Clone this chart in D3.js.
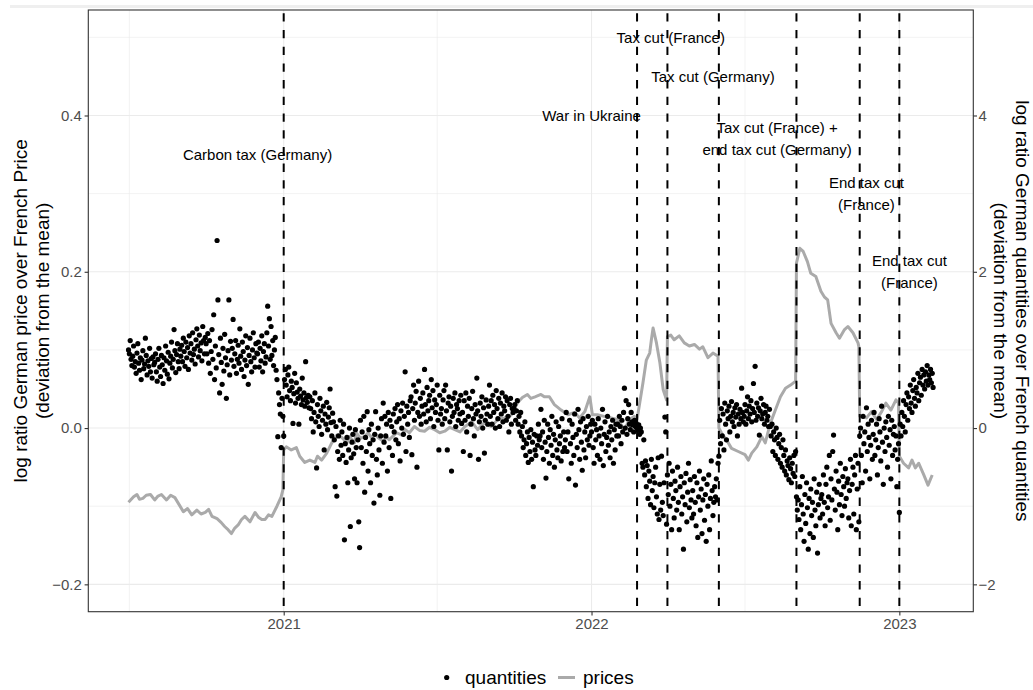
<!DOCTYPE html>
<html>
<head>
<meta charset="utf-8">
<script src="https://cdn.jsdelivr.net/npm/d3@7"></script>
<style>
  body { margin: 0; background: #fff; }
  text { font-family: "Liberation Sans", Arial, Helvetica, sans-serif; }
</style>
</head>
<body>
<svg id="chart" width="1033" height="690"></svg>
<script>
// ---- data ----
// price ratio, left axis units
const prices = [
  ["2020-07-01",-0.095],["2020-07-07",-0.088],["2020-07-11",-0.085],["2020-07-14",-0.091],["2020-07-18",-0.090],
  ["2020-07-22",-0.086],["2020-07-27",-0.085],["2020-08-01",-0.092],["2020-08-05",-0.087],["2020-08-09",-0.085],
  ["2020-08-15",-0.092],["2020-08-20",-0.086],["2020-08-25",-0.089],["2020-09-04",-0.107],["2020-09-09",-0.103],
  ["2020-09-14",-0.111],["2020-09-20",-0.105],["2020-09-25",-0.110],["2020-09-30",-0.108],["2020-10-04",-0.104],
  ["2020-10-08",-0.113],["2020-10-14",-0.116],["2020-10-19",-0.121],["2020-10-23",-0.126],["2020-10-27",-0.130],
  ["2020-10-31",-0.135],["2020-11-04",-0.128],["2020-11-08",-0.124],["2020-11-12",-0.117],["2020-11-16",-0.113],
  ["2020-11-22",-0.120],["2020-11-28",-0.108],["2020-12-02",-0.114],["2020-12-06",-0.117],["2020-12-10",-0.117],
  ["2020-12-14",-0.111],["2020-12-18",-0.113],["2020-12-24",-0.100],["2020-12-29",-0.088],["2020-12-31",-0.079],
  ["2021-01-01",-0.028],["2021-01-04",-0.024],["2021-01-10",-0.028],["2021-01-16",-0.025],
  ["2021-01-20",-0.036],["2021-01-26",-0.044],["2021-02-01",-0.041],["2021-02-07",-0.044],
  ["2021-02-10",-0.036],["2021-02-15",-0.041],["2021-02-21",-0.032],["2021-02-27",-0.019],
  ["2021-03-05",-0.009],["2021-03-11",-0.012],["2021-03-17",-0.019],["2021-03-20",-0.011],
  ["2021-03-26",-0.019],["2021-03-28",-0.006],["2021-04-02",-0.013],["2021-04-07",-0.011],["2021-04-11",-0.006],
  ["2021-04-15",-0.012],["2021-04-19",-0.007],["2021-04-23",-0.012],["2021-04-29",-0.017],["2021-05-03",-0.011],
  ["2021-05-06",-0.015],["2021-05-10",-0.011],["2021-05-15",-0.006],["2021-05-21",-0.009],["2021-05-25",-0.002],
  ["2021-05-30",-0.006],["2021-06-05",0.002],["2021-06-11",-0.003],["2021-06-17",-0.004],["2021-06-23",0.001],
  ["2021-06-29",-0.002],["2021-07-05",-0.006],["2021-07-11",-0.004],["2021-07-17",0.001],["2021-07-23",-0.002],
  ["2021-07-29",-0.005],["2021-08-04",0.002],["2021-08-12",0.008],["2021-08-19",-0.002],["2021-08-27",0.007],
  ["2021-09-04",0.002],["2021-09-12",0.011],["2021-09-20",0.013],["2021-09-28",0.017],["2021-10-05",0.032],
  ["2021-10-11",0.039],["2021-10-17",0.043],["2021-10-21",0.038],["2021-10-26",0.040],["2021-11-02",0.043],
  ["2021-11-06",0.040],["2021-11-12",0.040],["2021-11-18",0.030],["2021-11-26",0.023],
  ["2021-12-04",0.017],["2021-12-12",0.020],["2021-12-18",0.013],["2021-12-24",0.021],
  ["2021-12-30",0.040],["2022-01-02",0.017],["2022-01-08",0.017],["2022-01-16",0.015],
  ["2022-01-24",0.013],["2022-02-01",0.011],["2022-02-09",-0.002],["2022-02-15",0.011],
  ["2022-02-21",0.015],["2022-02-24",0.011],["2022-03-03",0.058],["2022-03-07",0.087],
  ["2022-03-11",0.096],["2022-03-13",0.113],["2022-03-15",0.128],["2022-03-19",0.109],
  ["2022-03-23",0.084],["2022-03-27",0.049],["2022-03-31",0.036],["2022-04-01",0.117],
  ["2022-04-05",0.119],["2022-04-09",0.113],["2022-04-15",0.118],["2022-04-21",0.109],
  ["2022-04-27",0.105],["2022-05-03",0.107],["2022-05-09",0.101],["2022-05-13",0.104],
  ["2022-05-19",0.090],["2022-05-25",0.096],["2022-05-31",0.092],["2022-06-01",0.000],
  ["2022-06-04",-0.006],["2022-06-10",-0.015],["2022-06-16",-0.026],["2022-06-24",-0.030],
  ["2022-07-02",-0.034],["2022-07-06",-0.041],["2022-07-10",-0.032],["2022-07-16",-0.024],
  ["2022-07-22",-0.011],["2022-07-26",-0.019],["2022-08-01",0.006],["2022-08-07",0.023],
  ["2022-08-13",0.040],["2022-08-19",0.051],["2022-08-25",0.055],["2022-08-31",0.060],
  ["2022-09-01",0.211],["2022-09-05",0.230],["2022-09-09",0.226],["2022-09-14",0.213],
  ["2022-09-18",0.198],["2022-09-24",0.194],["2022-09-30",0.175],["2022-10-04",0.168],
  ["2022-10-08",0.164],["2022-10-12",0.134],["2022-10-18",0.122],["2022-10-22",0.115],
  ["2022-10-28",0.126],["2022-11-01",0.130],["2022-11-07",0.122],["2022-11-13",0.109],
  ["2022-11-14",0.104],["2022-11-15",0.015],["2022-11-23",0.013],["2022-11-29",0.021],
  ["2022-12-05",0.011],["2022-12-11",0.021],["2022-12-16",0.032],["2022-12-22",0.023],
  ["2022-12-28",0.036],["2022-12-31",0.032],["2023-01-01",-0.036],["2023-01-06",-0.045],
  ["2023-01-12",-0.051],["2023-01-16",-0.041],["2023-01-20",-0.051],["2023-01-24",-0.045],
  ["2023-01-30",-0.060],["2023-02-04",-0.073],["2023-02-09",-0.060]
];

// quantity ratio, right axis units, one value per day, one array per month
const quantities2020 = [
  [1.00,0.95,1.12,0.88,0.80,0.92,1.05,0.78,0.85,0.70,0.96,1.08,0.83,0.74,0.90,0.62,0.87,0.99,0.76,0.82,1.15,0.93,0.68,0.86,0.79,1.02,0.72,0.89,0.64,0.91,0.81],
  [0.84,0.95,0.72,0.60,0.88,1.02,0.78,0.66,0.93,0.81,0.57,0.90,0.74,1.05,0.86,0.69,0.97,0.63,0.83,0.92,1.10,0.77,0.88,1.26,0.99,0.71,0.94,1.08,0.85,0.76,1.01],
  [0.92,1.06,0.85,1.15,0.98,0.79,1.10,0.90,1.03,0.75,1.18,0.96,1.08,0.87,1.22,0.94,1.01,0.82,1.13,1.27,1.05,0.91,1.19,0.99,1.09,0.86,1.30,1.12,0.95,1.16],
  [1.08,0.95,1.21,0.83,1.12,0.70,0.98,1.26,0.88,1.45,0.62,1.05,0.77,2.40,1.64,0.94,0.45,1.15,0.84,0.56,1.02,0.73,1.20,0.90,0.38,0.81,0.99,1.64,0.68,1.11,0.87],
  [1.02,1.39,0.79,0.95,1.12,0.70,0.88,1.06,0.83,1.27,0.92,0.75,1.10,0.98,0.66,0.87,1.18,0.80,1.03,0.56,0.93,1.15,0.85,0.72,1.00,1.22,0.90,0.78,1.08,0.96],
  [0.95,1.10,0.78,1.02,0.86,1.18,0.72,0.98,1.08,0.83,0.91,1.22,1.56,1.05,1.40,0.88,1.30,0.93,1.12,0.80,1.00,1.16,0.74,0.62,-0.11,0.45,0.30,0.18,-0.25,0.38,0.15]
];
const quantities2021 = [
  [-0.10,0.62,0.75,0.55,0.40,0.68,0.78,0.48,0.35,0.60,0.52,0.06,0.44,0.70,0.32,0.58,0.46,0.38,0.05,0.50,0.41,0.30,0.64,0.36,0.45,0.28,0.85,0.39,0.33,0.42,0.26],
  [0.40,0.25,0.12,0.35,-0.05,0.20,0.45,0.08,-0.51,0.30,0.15,0.02,0.38,0.22,-0.08,0.10,0.28,-0.28,0.18,0.05,0.33,-0.02,0.14,0.26,0.50,0.07,-0.10,0.19],
  [0.08,-0.15,-0.75,0.02,-0.87,-0.30,-0.10,-0.40,0.10,-0.22,-0.05,-0.35,0.05,-1.43,-0.20,-0.44,-0.12,-0.70,-0.28,0.00,-1.26,-0.38,-0.18,-0.08,-0.33,-0.65,-0.02,-0.25,-0.70,-0.15,-1.20],
  [-1.53,0.10,-0.25,-0.05,-0.45,0.15,-0.82,-0.12,-0.30,0.21,-0.55,-0.02,-0.20,-0.70,0.05,-0.35,-0.15,-0.96,-0.08,0.21,-0.40,-0.60,0.00,-0.28,-0.86,-0.10,0.12,-0.45,0.32,-0.18],
  [0.15,-0.10,0.05,-0.55,0.20,-0.25,0.10,-0.90,0.02,-0.35,0.18,-0.05,0.25,-0.15,0.08,0.30,-0.20,0.12,-0.42,0.22,0.00,0.32,-0.08,0.15,0.72,-0.30,0.28,0.05,0.20,-0.12,0.35],
  [0.40,-0.34,0.25,0.55,0.10,0.32,0.47,-0.50,0.20,0.60,0.15,0.38,0.05,0.28,0.45,0.18,0.75,0.30,0.08,0.52,0.22,0.35,0.42,0.12,0.62,0.26,0.48,0.02,0.36,0.20],
  [0.30,0.55,0.10,-0.28,0.42,0.18,0.25,0.05,0.36,0.48,0.12,0.55,0.22,-0.28,0.32,0.40,0.08,0.28,-0.55,0.15,0.38,0.20,0.45,0.02,0.30,0.25,0.10,0.35,0.18,0.42,0.06],
  [0.20,-0.30,0.35,0.10,0.45,-0.05,0.28,0.15,0.38,-0.35,0.05,0.25,0.47,0.12,-0.10,0.30,0.18,0.64,0.22,-0.40,0.08,0.32,0.15,0.40,0.00,0.26,-0.32,0.10,0.36,0.18,0.05],
  [0.28,0.55,0.15,0.35,0.05,0.42,0.20,0.30,0.00,0.48,0.25,0.12,0.38,0.02,0.32,0.18,0.45,0.08,0.28,0.22,0.40,0.10,0.35,0.15,-0.05,0.30,0.38,0.05,0.25,0.20],
  [0.25,0.30,0.10,0.22,0.35,0.05,0.15,-0.05,0.20,-0.10,0.02,-0.25,-0.15,0.08,-0.35,-0.20,-0.05,-0.44,-0.12,-0.30,-0.02,-0.40,-0.18,-0.75,-0.08,-0.28,-0.35,-0.10,-0.22,0.05,-0.15],
  [-0.10,0.24,-0.25,-0.05,-0.40,0.10,-0.18,-0.64,-0.30,0.05,-0.12,-0.45,-0.02,-0.22,0.15,-0.35,-0.08,-0.50,-0.15,0.08,-0.28,-0.38,0.02,-0.20,-0.10,-0.42,0.12,-0.30,-0.05,-0.25],
  [-0.15,0.20,-0.30,-0.05,-0.65,0.10,-0.20,-0.45,0.05,-0.12,-0.35,0.18,-0.73,-0.08,-0.25,0.24,-0.02,-0.40,0.08,-0.18,-0.54,0.12,-0.28,-0.05,-0.38,0.02,-0.15,0.15,-0.22,-0.10,0.05]
];
const quantities2022 = [
  [-0.05,0.10,-0.25,-0.45,0.05,-0.15,-0.02,-0.35,0.12,-0.10,-0.40,0.00,-0.20,0.24,-0.48,-0.08,0.08,-0.30,-0.12,0.15,-0.22,-0.05,-0.38,0.02,-0.15,0.10,-0.45,-0.02,-0.28,0.05,-0.10],
  [0.05,-0.10,0.15,0.02,-0.20,0.10,-0.05,0.20,0.51,0.00,0.35,-0.08,0.12,0.30,0.05,-0.02,0.20,0.08,0.04,-0.05,0.10,0.02,0.06,0.00,-0.02,0.04,-0.08,0.00],
  [-0.05,-0.45,-0.50,-0.15,-0.60,-0.42,-0.75,-0.48,-0.90,-0.55,-0.68,-0.98,-0.40,-0.80,-0.62,-1.02,-0.70,-0.50,-0.88,-1.10,-0.38,-1.17,-0.72,-1.05,-0.36,-0.95,-1.12,-0.70,0.14,-0.05,-1.23],
  [-0.60,-0.85,-0.45,-1.00,-0.72,-1.30,-0.55,-0.90,-1.15,-0.68,-0.80,-1.05,-0.50,-0.95,-1.30,-0.75,-0.62,-1.10,-0.88,-1.55,-0.70,-0.98,-0.58,-1.20,-0.82,-0.45,-1.02,-0.66,-0.92,-1.15],
  [-0.80,-1.10,-0.62,-0.95,-1.25,-0.70,-1.40,-0.88,-0.55,-1.05,-0.78,-1.35,-0.92,-0.65,-1.18,-0.85,-1.45,-0.72,-1.00,-0.60,-1.30,-0.90,-0.42,-0.80,-1.12,-0.95,-0.75,-0.88,-0.65,-0.92,-0.45],
  [-0.36,0.10,-0.20,0.25,-0.10,0.18,-0.28,0.32,0.05,-0.15,0.22,0.12,0.28,-0.05,0.15,0.34,0.08,0.20,0.02,0.26,0.14,0.30,-0.10,0.18,0.05,0.24,0.12,0.51,0.20,0.08],
  [0.15,0.30,0.05,0.22,0.40,0.12,0.28,0.18,0.35,0.08,0.25,0.57,0.20,0.79,0.10,0.32,0.15,0.26,-0.09,0.22,0.38,0.12,0.18,0.30,0.05,0.20,0.28,0.10,0.15,0.02,0.24],
  [0.02,-0.10,0.05,-0.30,-0.05,-0.15,-0.35,0.00,-0.12,-0.40,-0.20,-0.08,-0.45,-0.25,-0.50,-0.15,-0.35,-0.55,-0.28,-0.60,-0.42,-0.48,-0.66,-0.38,-0.52,-0.70,-0.45,-0.58,-0.35,-0.62,-0.30],
  [-0.88,-1.05,-0.92,-1.17,-0.75,-1.30,-0.98,-0.62,-1.10,-1.45,-0.85,-1.22,-0.70,-1.02,-1.55,-0.90,-1.35,-0.78,-1.12,-0.95,-1.40,-0.65,-1.05,-1.25,-0.82,-1.60,-0.98,-0.72,-1.15,-0.90],
  [-0.85,-1.10,-0.60,-0.95,-1.25,-0.72,-0.50,-1.02,-0.88,-0.35,-1.18,-0.65,-0.92,-0.30,-0.09,-0.78,-1.05,-0.55,-0.82,-1.30,-0.68,-0.98,-0.45,-0.85,-1.12,-0.62,-0.75,-1.00,-0.52,-0.90,-0.70],
  [-0.65,-1.15,-0.80,-0.40,-1.25,-0.72,-0.50,-1.10,-0.60,-0.35,-1.30,-0.78,-0.45,-1.20,-0.10,0.00,-0.35,-0.70,0.15,-0.20,-0.05,-0.55,0.26,-0.30,0.05,-0.12,-0.65,-0.22,0.10,-0.40],
  [-0.08,0.20,-0.35,-0.15,0.05,-0.60,-0.25,0.12,-0.05,-0.42,0.28,-0.18,-0.72,0.00,-0.30,0.08,-0.12,-0.50,0.15,-0.22,-0.02,-0.65,0.10,-0.35,-0.08,0.02,-0.28,-0.10,-0.75,-0.40,-0.20]
];
const quantities2023 = [
  [-1.08,0.05,-0.10,0.20,0.02,0.35,0.15,-0.05,0.30,0.45,0.10,0.40,0.25,0.55,0.32,0.20,0.48,0.62,0.38,0.28,0.52,0.45,0.70,0.35,0.58,0.65,0.42,0.75,0.55,0.68,0.50],
  [0.72,0.60,0.80,0.55,0.68,0.62,0.75,0.58,0.70,0.52]
];
const quantityYears = [2020, 2021, 2022, 2023];
const quantityFirstMonth = [6, 0, 0, 0];

const eventDates = ["2021-01-01","2022-02-24","2022-04-01","2022-06-01","2022-09-01","2022-11-15","2023-01-01"];
const labelTexts = ["Carbon tax (Germany)","War in Ukraine","Tax cut (France)","Tax cut (Germany)",
  "Tax cut (France) +\nend tax cut (Germany)","End tax cut\n(France)","End tax cut\n(France)"];
const labelDates = ["2020-12-01","2022-01-01","2022-04-05","2022-05-25","2022-08-09","2022-11-23","2023-01-13"];
const labelValues = [0.35, 0.40, 0.50, 0.45, 0.37, 0.30, 0.20];

const leftTicks = [-0.2, 0, 0.2, 0.4];
const leftMinor = [-0.1, 0.1, 0.3, 0.5];
const rightTicks = [-2, 0, 2, 4];
const yearTicks = ["2021-01-01","2022-01-01","2023-01-01"];
const yearMinor = ["2020-07-02","2021-07-02","2022-07-02"];

// ---- layout ----
const W = 1033, H = 690;
const panel = {left: 88.3, right: 973.3, top: 10, bottom: 611.7};
const parse = d3.timeParse("%Y-%m-%d");
const font = "'Liberation Sans', Arial, Helvetica, sans-serif";

const priceData = prices.map(d => ({date: parse(d[0]), value: d[1]}));
const quantityData = [];
[quantities2020, quantities2021, quantities2022, quantities2023].forEach((months, yi) => {
  months.forEach((vals, mi) => {
    vals.forEach((v, j) => {
      quantityData.push({date: new Date(quantityYears[yi], quantityFirstMonth[yi] + mi, 1 + j), value: v});
    });
  });
});

// ggplot-like 5% expansion
const xExt = d3.extent(quantityData.concat(priceData), d => d.date);
const span = xExt[1] - xExt[0];
const x = d3.scaleTime()
  .domain([new Date(+xExt[0] - span * 0.05), new Date(+xExt[1] + span * 0.05)])
  .range([panel.left, panel.right]);
const yL = d3.scaleLinear().domain([-0.2 - 0.035, 0.5 + 0.035]).range([panel.bottom, panel.top]);
const yR = d3.scaleLinear().domain([-2.35, 5.35]).range([panel.bottom, panel.top]);

const svg = d3.select("#chart");
svg.append("rect").attr("width", W).attr("height", H).attr("fill", "#fff");
svg.append("rect").attr("x", 10).attr("y", 5).attr("width", W - 10).attr("height", 3).attr("fill", "#efefef");

// grid
const grid = svg.append("g");
grid.selectAll(".ymin").data(leftMinor).join("line")
  .attr("x1", panel.left).attr("x2", panel.right)
  .attr("y1", d => yL(d)).attr("y2", d => yL(d))
  .attr("stroke", "#ebebeb").attr("stroke-width", 0.6);
grid.selectAll(".xmin").data(yearMinor).join("line")
  .attr("x1", d => x(parse(d))).attr("x2", d => x(parse(d)))
  .attr("y1", panel.top).attr("y2", panel.bottom)
  .attr("stroke", "#ebebeb").attr("stroke-width", 0.6);
grid.selectAll(".ymaj").data(leftTicks).join("line")
  .attr("x1", panel.left).attr("x2", panel.right)
  .attr("y1", d => yL(d)).attr("y2", d => yL(d))
  .attr("stroke", "#ebebeb").attr("stroke-width", 1.1);
grid.selectAll(".xmaj").data(yearTicks).join("line")
  .attr("x1", d => x(parse(d))).attr("x2", d => x(parse(d)))
  .attr("y1", panel.top).attr("y2", panel.bottom)
  .attr("stroke", "#ebebeb").attr("stroke-width", 1.1);

svg.append("clipPath").attr("id", "clip").append("rect")
  .attr("x", panel.left).attr("y", panel.top)
  .attr("width", panel.right - panel.left).attr("height", panel.bottom - panel.top);
const plot = svg.append("g").attr("clip-path", "url(#clip)");

// prices line
plot.append("path").datum(priceData)
  .attr("fill", "none").attr("stroke", "#aaaaaa").attr("stroke-width", 3)
  .attr("stroke-linejoin", "round")
  .attr("d", d3.line().x(d => x(d.date)).y(d => yL(d.value)));

// quantities points
plot.selectAll("circle").data(quantityData).join("circle")
  .attr("cx", d => x(d.date)).attr("cy", d => yR(d.value))
  .attr("r", 2.6).attr("fill", "#000");

// event lines
plot.selectAll(".ev").data(eventDates).join("line")
  .attr("x1", d => x(parse(d))).attr("x2", d => x(parse(d)))
  .attr("y1", panel.top).attr("y2", panel.bottom)
  .attr("stroke", "#000").attr("stroke-width", 2)
  .attr("stroke-dasharray", "8.3,8.4").attr("stroke-dashoffset", 13.4);

// labels
const lab = svg.append("g").attr("font-family", font).attr("font-size", 15).attr("fill", "#000")
  .attr("text-anchor", "middle");
labelTexts.forEach((t, i) => {
  const lines = t.split("\n");
  const cx = x(parse(labelDates[i])), cy = yL(labelValues[i]);
  const txt = lab.append("text").attr("x", cx).attr("y", cy);
  lines.forEach((ln, k) => {
    txt.append("tspan").attr("x", cx)
      .attr("y", cy + (k - (lines.length - 1) / 2) * 22)
      .attr("dy", "0.35em").text(ln);
  });
});

// panel border
svg.append("rect").attr("x", panel.left).attr("y", panel.top)
  .attr("width", panel.right - panel.left).attr("height", panel.bottom - panel.top)
  .attr("fill", "none").attr("stroke", "#333").attr("stroke-width", 1.1);

// axes
function styleAxis(g) {
  g.select(".domain").remove();
  g.selectAll(".tick line").attr("stroke", "#333").attr("stroke-width", 1.1);
  g.selectAll(".tick text").attr("fill", "#4d4d4d").attr("font-size", 15).attr("font-family", font);
}
svg.append("g").attr("transform", `translate(${panel.left},0)`)
  .call(d3.axisLeft(yL).tickValues(leftTicks).tickFormat(d3.format(".1f")).tickSize(3.7).tickPadding(2.8))
  .call(styleAxis);
svg.append("g").attr("transform", `translate(${panel.right},0)`)
  .call(d3.axisRight(yR).tickValues(rightTicks).tickFormat(d3.format("d")).tickSize(3.7).tickPadding(1.6))
  .call(styleAxis);
svg.append("g").attr("transform", `translate(0,${panel.bottom})`)
  .call(d3.axisBottom(x).tickValues(yearTicks.map(parse)).tickFormat(d3.timeFormat("%Y")).tickSize(3.7).tickPadding(2.5))
  .call(styleAxis);

// axis titles
const midY = (panel.top + panel.bottom) / 2;
const titles = svg.append("g").attr("font-family", font).attr("font-size", 19).attr("fill", "#000")
  .attr("text-anchor", "middle");
titles.append("text").attr("transform", `translate(20,${midY}) rotate(-90)`).attr("dy", "0.35em")
  .text("log ratio German price over French Price");
titles.append("text").attr("transform", `translate(42,${midY}) rotate(-90)`).attr("dy", "0.35em")
  .text("(deviation from the mean)");
titles.append("text").attr("transform", `translate(1023,${midY}) rotate(90)`).attr("dy", "0.35em")
  .text("log ratio German quantities over French quantities");
titles.append("text").attr("transform", `translate(1001,${midY}) rotate(90)`).attr("dy", "0.35em")
  .text("(deviation from the mean)");

// legend
const leg = svg.append("g").attr("font-family", font).attr("font-size", 19).attr("fill", "#000");
const legY = 677.5;
leg.append("circle").attr("cx", 446.7).attr("cy", legY).attr("r", 2.6).attr("fill", "#000");
leg.append("text").attr("x", 465).attr("y", legY).attr("dy", "0.32em").text("quantities");
leg.append("line").attr("x1", 558).attr("x2", 575).attr("y1", legY).attr("y2", legY)
  .attr("stroke", "#aaaaaa").attr("stroke-width", 3);
leg.append("text").attr("x", 583).attr("y", legY).attr("dy", "0.32em").text("prices");
</script>
</body>
</html>
